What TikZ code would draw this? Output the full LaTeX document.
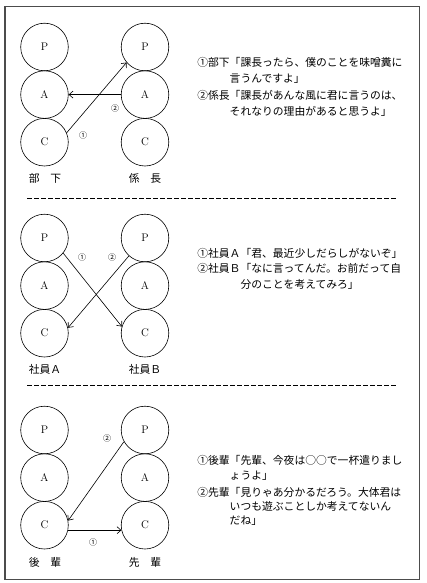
\documentclass[tikz,border=0pt]{standalone}
\usepackage{fontspec}
\usepackage{tikz}
\usetikzlibrary{arrows.meta}
\newfontfamily\jp{Noto Sans CJK JP}
\tikzset{every picture/.style={line width=0.6pt}}
\tikzset{
  ego/.style={draw, circle, minimum size=47.6pt, inner sep=0pt, font=\fontsize{11}{13}\selectfont},
  said/.style={anchor=west, inner sep=0pt, font=\jp\fontsize{10.8}{14}\selectfont},
  who/.style={inner sep=0pt, font=\jp\fontsize{10.8}{14}\selectfont},
  num/.style={inner sep=0pt, font=\jp\fontsize{8}{10}\selectfont},
  talk/.style={-{Straight Barb[length=4pt,width=7pt]}},
  cut/.style={line width=0.7pt, dash pattern=on 5pt off 2pt}
}

\begin{document}
\begin{tikzpicture}[x=1pt,y=1pt,yscale=-1,xscale=1]
\useasboundingbox (0,0) rectangle (427,583);

%Frame
\draw [line width=1.1pt, color=black!70] (5,6.5) rectangle (419.5,579.5) ;
%Dashed separators
\draw [cut]  (27,198) -- (397,198) ;
\draw [cut]  (27,385) -- (397,385) ;

%Section 1: circles
\node [ego] (l1P) at (44.5,47) {P};
\node [ego] (l1A) at (44.5,94.6) {A};
\node [ego] (l1C) at (44.5,142.2) {C};
\node [ego] (r1P) at (145,47) {P};
\node [ego] (r1A) at (145,94.6) {A};
\node [ego] (r1C) at (145,142.2) {C};
\node [who] (l1who) at (45,178) {部　下};
\node [who] (r1who) at (145,178) {係　長};
%Section 1: arrows
\draw [talk] (l1C.23) -- (r1P.220) ;
\draw [talk] (r1A.west) -- (l1A.east) ;
\node [num] (n11) at (83,135) {①};
\node [num] (n12) at (115,108) {②};

%Section 2: circles
\node [ego] (l2P) at (44.5,238) {P};
\node [ego] (l2A) at (44.5,285.6) {A};
\node [ego] (l2C) at (44.5,333.2) {C};
\node [ego] (r2P) at (145,238) {P};
\node [ego] (r2A) at (145,285.6) {A};
\node [ego] (r2C) at (145,333.2) {C};
\node [who] (l2who) at (45,369) {社員Ａ};
\node [who] (r2who) at (145,369) {社員Ｂ};
%Section 2: arrows
\draw [talk] (l2P.-39) -- (r2C.164) ;
\draw [talk] (r2P.228) -- (l2C.13) ;
\node [num] (n21) at (82,257) {①};
\node [num] (n22) at (112,257) {②};

%Section 3: circles
\node [ego] (l3P) at (44.5,430) {P};
\node [ego] (l3A) at (44.5,477.6) {A};
\node [ego] (l3C) at (44.5,525.2) {C};
\node [ego] (r3P) at (145,430) {P};
\node [ego] (r3A) at (145,477.6) {A};
\node [ego] (r3C) at (145,525.2) {C};
\node [who] (l3who) at (45,562) {後　輩};
\node [who] (r3who) at (145,562) {先　輩};
%Section 3: arrows
\draw [talk] (r3P.209) -- (l3C.11) ;
\draw [talk] (l3C.-12) -- (r3C.192) ;
\node [num] (n31) at (93,542) {①};
\node [num] (n32) at (107,438) {②};

% Text Node
\node [said] (t11) at (197,62) {①部下「課長ったら、僕のことを味噌糞に};
\node [said] (t12) at (229.4,79) {言うんですよ」};
\node [said] (t13) at (197,95) {②係長「課長があんな風に君に言うのは、};
\node [said] (t14) at (229.4,111) {それなりの理由があると思うよ」};
% Text Node
\node [said] (t21) at (197,253) {①社員Ａ「君、最近少しだらしがないぞ」};
\node [said] (t22) at (197,268.5) {②社員Ｂ「なに言ってんだ。お前だって自};
\node [said] (t23) at (240.2,284) {分のことを考えてみろ」};
% Text Node
\node [said] (t31) at (197,460) {①後輩「先輩、今夜は○○で一杯遣りまし};
\node [said] (t32) at (229.4,476) {ょうよ」};
\node [said] (t33) at (197,492) {②先輩「見りゃあ分かるだろう。大体君は};
\node [said] (t34) at (229.4,506.5) {いつも遊ぶことしか考えてないん};
\node [said] (t35) at (229.4,521) {だね」};

\end{tikzpicture}
\end{document}
